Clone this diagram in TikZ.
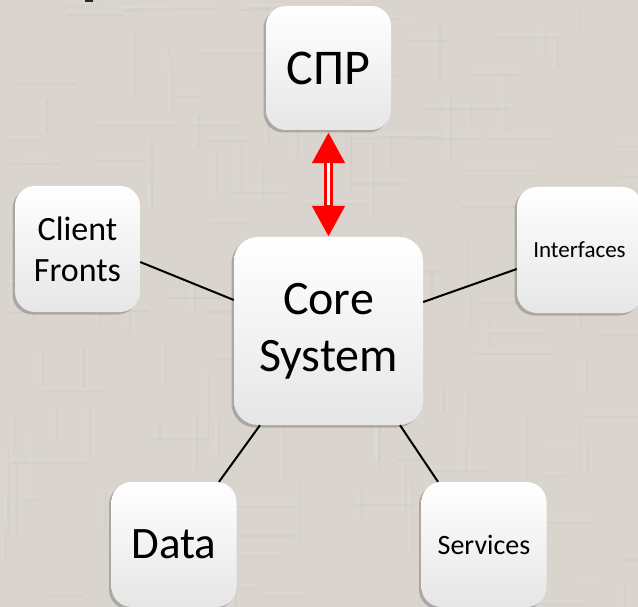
\documentclass[tikz,border=0pt]{standalone}
\usepackage{fontspec}
\setmainfont{Carlito}
\usetikzlibrary{arrows.meta,shadows}
\definecolor{bg}{RGB}{217,212,205}
\definecolor{boxbot}{RGB}{230,230,230}
\begin{document}
\begin{tikzpicture}[x=1pt,y=-1pt,
  box/.style={rectangle, rounded corners=20pt, top color=white, middle color=white, bottom color=boxbot,
    draw=none, align=center, inner sep=0pt,
    drop shadow={shadow xshift=-2.5pt, shadow yshift=-2.5pt, opacity=0.45, fill=black!55}},
  small/.style={box, minimum width=125pt, minimum height=126pt},
  link/.style={draw=black, line width=2pt},
  streak/.style={opacity=0.07},
]
\fill[bg] (0,0) rectangle (638,607);
\useasboundingbox (0,0) rectangle (638,607);
% faint woven texture of the background
\pgfmathsetseed{11}
\foreach \i in {1,...,90} {
  \pgfmathsetmacro\px{rnd*630}
  \pgfmathsetmacro\py{rnd*600}
  \pgfmathsetmacro\pl{20+rnd*60}
  \fill[white, streak] (\px,\py) rectangle ++(2,\pl);
  \fill[black!40, streak] (\px+4,\py) rectangle ++(1.5,\pl);
}
\foreach \i in {1,...,90} {
  \pgfmathsetmacro\px{rnd*630}
  \pgfmathsetmacro\py{rnd*600}
  \pgfmathsetmacro\pl{20+rnd*70}
  \fill[white, streak] (\px,\py) rectangle ++(\pl,2);
  \fill[black!40, streak] (\px,\py+4) rectangle ++(\pl,1.5);
}
\fill[black!85] (85,0) rectangle (93,2.5);

\node[small, minimum height=124pt, font=\fontsize{50}{60}\selectfont] (spr) at (328.5,68) {СПР};
\node[small, font=\fontsize{34}{41}\selectfont] (client) at (77.5,249) {Client\\Fronts};
\node[small, font=\fontsize{23}{28}\selectfont] (interfaces) at (579.5,250) {Interfaces};
\node[box, rounded corners=24pt, minimum width=189pt, minimum height=188pt, font=\fontsize{48}{57}\selectfont] (core) at (328.5,331) {Core\\System};
\node[small, minimum height=125pt, font=\fontsize{45}{54}\selectfont] (data) at (174,544.5) {Data};
\node[small, minimum height=125pt, font=\fontsize{28}{34}\selectfont] (services) at (484,544.5) {Services};

\draw[link] ([yshift=-13pt]client.east) -- ([yshift=31pt]core.west);
\draw[link] ([yshift=29pt]core.east) -- ([yshift=-19pt]interfaces.west);
\draw[link] ([xshift=-68.5pt]core.south) -- ([xshift=45pt]data.north);
\draw[link] ([xshift=71.5pt]core.south) -- ([xshift=-46pt]services.north);

\draw[red, line width=9pt, shorten <=2pt,
  {Triangle[width=31pt,length=31pt]}-{Triangle[width=31pt,length=31pt]}] (spr.south) -- (core.north);
\draw[white, line width=3.6pt] ([yshift=-33pt]spr.south) -- ([yshift=32pt]core.north);
\end{tikzpicture}
\end{document}
